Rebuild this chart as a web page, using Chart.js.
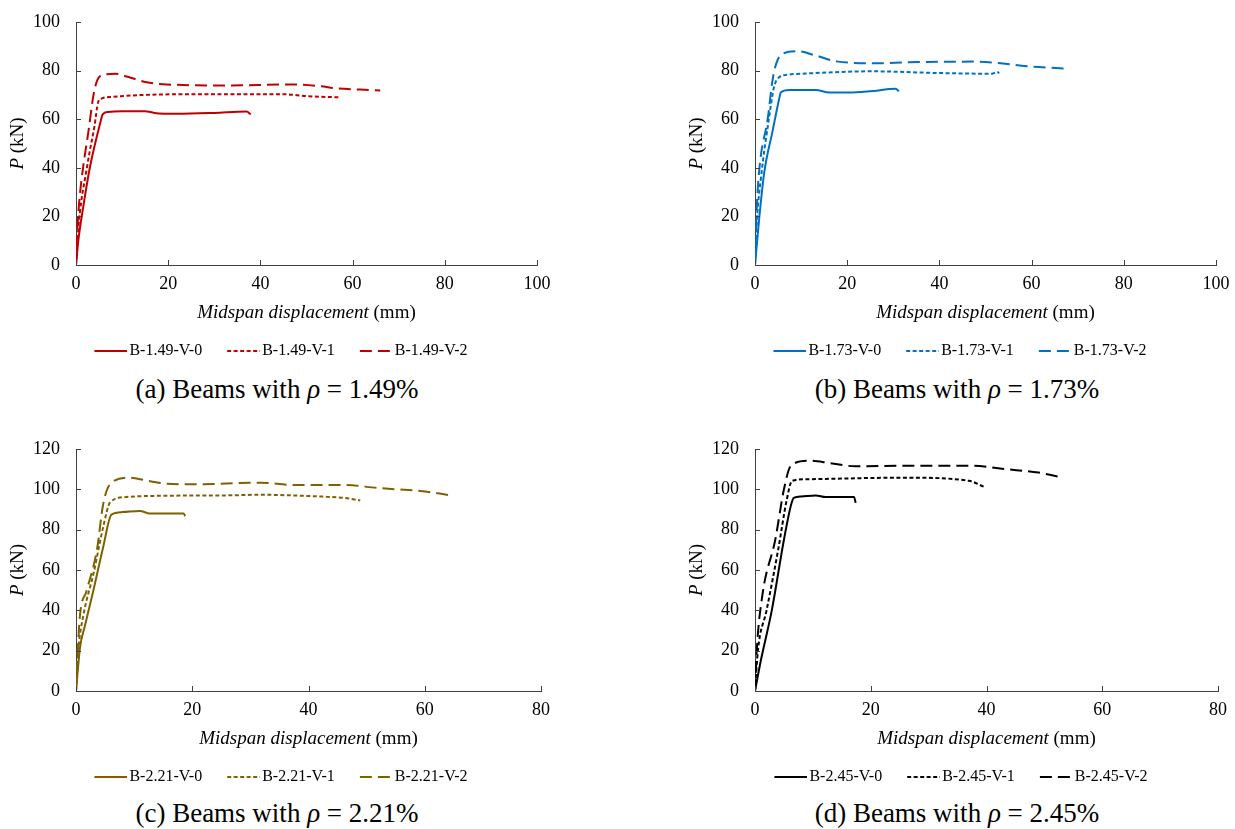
<!DOCTYPE html>
<html>
<head>
<meta charset="utf-8">
<script src="https://cdn.jsdelivr.net/npm/chart.js@4/dist/chart.umd.min.js"></script>
<style>
  body { margin: 0; background: #fff; width: 1235px; height: 829px; position: relative; overflow: hidden; }
  .panel { position: absolute; width: 560px; }
  .caption { position: absolute; width: 560px; text-align: center; font-family: "Liberation Serif", serif; font-size: 27px; color: #000; line-height: 30px; }
</style>
</head>
<body>
<div class="panel" style="left:0;top:0;height:369px"><canvas id="chartA"></canvas></div>
<div class="panel" style="left:679px;top:0;height:369px"><canvas id="chartB"></canvas></div>
<div class="panel" style="left:0;top:427px;height:368px"><canvas id="chartC"></canvas></div>
<div class="panel" style="left:680px;top:427px;height:368px"><canvas id="chartD"></canvas></div>
<div class="caption" style="left:-3px;top:374px">(a) Beams with <i>ρ</i> = 1.49%</div>
<div class="caption" style="left:677px;top:374px">(b) Beams with <i>ρ</i> = 1.73%</div>
<div class="caption" style="left:-3px;top:798px">(c) Beams with <i>ρ</i> = 2.21%</div>
<div class="caption" style="left:677px;top:798px">(d) Beams with <i>ρ</i> = 2.45%</div>
<script>
// (a) rho = 1.49%
var namesA = ['B-1.49-V-0', 'B-1.49-V-1', 'B-1.49-V-2'];
var a0x = [0, 0.5, 1.5, 3, 5.2, 5.8, 7, 10, 15, 17, 22, 30, 37, 37.9];
var a0y = [0, 10, 23, 40, 58, 62, 63, 63.3, 63.3, 62.6, 62.2, 62.6, 63.2, 62];
var a1x = [0, 0.5, 1.2, 2, 3, 4, 4.8, 5.5, 8, 15, 30, 45, 50, 57];
var a1y = [0, 15, 27, 36, 47, 57, 67, 68.5, 69.2, 70, 70.3, 70.3, 69.5, 69];
var a2x = [0, 0.3, 0.8, 1.6, 2.7, 3.8, 4.6, 6, 8.5, 11, 15.3, 19.7, 32.7, 47, 52.9, 56.5, 61.6, 66];
var a2y = [0, 15, 28, 41, 55, 70, 76, 78.3, 78.7, 77.6, 75.2, 74.3, 73.9, 74.3, 73.6, 72.7, 72.2, 71.8];

// (b) rho = 1.73%
var namesB = ['B-1.73-V-0', 'B-1.73-V-1', 'B-1.73-V-2'];
var b0x = [0, 0.9, 2, 3.8, 5.2, 5.6, 7.4, 13.2, 16.1, 20.4, 25, 30.5, 31.2];
var b0y = [0, 19, 38, 55, 68, 71, 72, 72, 71, 71, 71.5, 72.5, 71.5];
var b1x = [0, 0.4, 1.3, 3, 4.1, 5.2, 7, 11, 25.4, 39.9, 51.4, 52.5, 53];
var b1y = [0, 18, 36, 60, 73, 77.2, 78.3, 78.8, 79.7, 79, 78.7, 79.4, 79];
var b2x = [0, 0.3, 0.9, 2.8, 3.8, 4.7, 6.1, 9, 13.2, 17.7, 27.1, 32.9, 47.4, 52.4, 58.9, 67];
var b2y = [0, 20, 38.6, 60.7, 76, 83.4, 87, 88, 86.2, 83.8, 83, 83.4, 83.7, 83.2, 81.8, 80.9];

// (c) rho = 2.21%
var namesC = ['B-2.21-V-0', 'B-2.21-V-1', 'B-2.21-V-2'];
var c0x = [0, 0.7, 1.5, 3, 4.7, 6.1, 8, 11, 12.7, 18.5, 18.8];
var c0y = [0, 21.7, 32, 50, 71.7, 87.5, 88.7, 89.3, 88, 88, 86.7];
var c1x = [0, 0.4, 1.3, 3, 4.7, 5.9, 8.7, 15, 25.9, 31.7, 43.1, 46, 48.9];
var c1y = [0, 20, 38, 58, 81.6, 93.7, 96.2, 96.8, 97, 97.3, 96.3, 95.8, 94.5];
var c2x = [0, 0.3, 0.7, 1.8, 3.6, 4.7, 6.1, 9.3, 11, 15.6, 20.2, 31.7, 37.4, 46, 51.8, 60.4, 64.4];
var c2y = [0, 20, 38, 49.5, 70, 93, 103.3, 105.8, 105, 102.8, 102.5, 103.3, 102.2, 102.2, 100.7, 98.8, 97];

// (d) rho = 2.45%
var namesD = ['B-2.45-V-0', 'B-2.45-V-1', 'B-2.45-V-2'];
var d0x = [0, 1, 2.9, 5, 6.2, 6.7, 8, 10.5, 12.2, 17.1, 17.4];
var d0y = [0, 15, 40, 75, 92, 95.8, 96.5, 97, 96.2, 96.2, 93.3];
var d1x = [0, 0.5, 2, 4, 5.5, 6.4, 8.8, 26, 37, 39.6];
var d1y = [0, 20, 40, 70, 95, 104.2, 105, 105.8, 104.2, 101.2];
var d2x = [0, 0.3, 1.3, 3.5, 5, 6.2, 9.3, 13, 17.4, 26, 37.5, 43.3, 49, 52.5];
var d2y = [0, 20, 48, 75, 100, 111.7, 114.2, 113, 111.4, 111.7, 111.7, 110, 108.3, 106.2];

var AXIS = '#404040';
var FONT = '"Liberation Serif", serif';
var DASHES = [[], [4, 2.5], [12, 6]];

function pts(xs, ys) {
  return xs.map(function(x, i) { return { x: x, y: ys[i] }; });
}

// draw a line of text made of parts with their own font
function drawRich(ctx, parts, cx, cy) {
  var total = 0;
  parts.forEach(function(p) { ctx.font = p.font; total += ctx.measureText(p.text).width; });
  var x = cx - total / 2;
  ctx.textBaseline = 'middle';
  ctx.textAlign = 'left';
  parts.forEach(function(p) {
    ctx.font = p.font;
    ctx.fillText(p.text, x, cy);
    x += ctx.measureText(p.text).width;
  });
}

// inward tick marks and axis titles with italic parts
var axisDecor = {
  id: 'axisDecor',
  afterDraw: function(chart) {
    var ctx = chart.ctx, a = chart.chartArea;
    var sx = chart.scales.x, sy = chart.scales.y;
    ctx.save();
    ctx.strokeStyle = AXIS;
    ctx.lineWidth = 1;
    ctx.beginPath();
    sx.ticks.forEach(function(t) {
      var px = Math.round(sx.getPixelForValue(t.value)) + 0.5;
      ctx.moveTo(px, a.bottom); ctx.lineTo(px, a.bottom - 5);
    });
    sy.ticks.forEach(function(t) {
      var py = Math.round(sy.getPixelForValue(t.value)) + 0.5;
      ctx.moveTo(a.left, py); ctx.lineTo(a.left + 5, py);
    });
    ctx.stroke();
    ctx.fillStyle = '#000';
    drawRich(ctx, [
      { text: 'Midspan displacement', font: 'italic 19px ' + FONT },
      { text: ' (mm)', font: '19px ' + FONT }
    ], (a.left + a.right) / 2, a.bottom + 48);
    ctx.translate(a.left - 58, (a.top + a.bottom) / 2);
    ctx.rotate(-Math.PI / 2);
    drawRich(ctx, [
      { text: 'P', font: 'italic 19px ' + FONT },
      { text: ' (kN)', font: '19px ' + FONT }
    ], 0, 0);
    ctx.restore();
  }
};

// legend swatch: a short line sitting close to its label
function swatch(color, dash) {
  var c = document.createElement('canvas');
  c.width = 44; c.height = 6;
  var g = c.getContext('2d');
  g.strokeStyle = color;
  g.lineWidth = 2;
  g.setLineDash(dash);
  g.beginPath();
  g.moveTo(11, 3); g.lineTo(44, 3);
  g.stroke();
  return c;
}

function legendLabels(chart) {
  var items = Chart.defaults.plugins.legend.labels.generateLabels(chart);
  items.forEach(function(it) {
    var ds = chart.data.datasets[it.datasetIndex];
    it.pointStyle = swatch(ds.borderColor, ds.borderDash);
  });
  return items;
}

function makeChart(id, names, color, series, xMax, yMax, padLeft, yWidth, padRight) {
  var el = document.getElementById(id);
  return new Chart(el.getContext('2d'), {
    type: 'scatter',
    data: {
      datasets: series.map(function(s, i) {
        return {
          label: names[i],
          data: pts(s[0], s[1]),
          showLine: true,
          borderColor: color,
          backgroundColor: color,
          borderWidth: 2,
          borderDash: DASHES[i],
          pointRadius: 0,
          tension: 0.3,
          cubicInterpolationMode: 'monotone'
        };
      })
    },
    options: {
      responsive: true,
      maintainAspectRatio: false,
      animation: false,
      layout: { padding: { top: 22, right: padRight, left: padLeft, bottom: 0 } },
      plugins: {
        tooltip: { enabled: false },
        legend: {
          position: 'bottom',
          labels: {
            usePointStyle: true,
            pointStyleWidth: 32,
            padding: 20,
            color: '#000',
            font: { family: FONT, size: 16 },
            generateLabels: legendLabels
          }
        }
      },
      scales: {
        x: {
          type: 'linear', min: 0, max: xMax,
          grid: { display: false, drawTicks: false },
          border: { color: AXIS, width: 1 },
          ticks: { stepSize: 20, padding: 8, color: '#000', font: { family: FONT, size: 18 } },
          afterFit: function(s) { s.height = 58; }
        },
        y: {
          type: 'linear', min: 0, max: yMax,
          grid: { display: false, drawTicks: false },
          border: { color: AXIS, width: 1 },
          ticks: { stepSize: 20, padding: 16, color: '#000', font: { family: FONT, size: 18 } },
          afterFit: function(s) { s.width = yWidth; s.paddingTop = 0; s.paddingBottom = 0; }
        }
      }
    },
    plugins: [axisDecor]
  });
}

makeChart('chartA', namesA, '#C00000', [[a0x, a0y], [a1x, a1y], [a2x, a2y]], 100, 100, 20, 56, 23);
makeChart('chartB', namesB, '#0070C0', [[b0x, b0y], [b1x, b1y], [b2x, b2y]], 100, 100, 20, 56, 23);
makeChart('chartC', namesC, '#7F6000', [[c0x, c0y], [c1x, c1y], [c2x, c2y]], 80, 120, 16, 60, 19);
makeChart('chartD', namesD, '#000000', [[d0x, d0y], [d1x, d1y], [d2x, d2y]], 80, 120, 19, 56, 22);
</script>
</body>
</html>
